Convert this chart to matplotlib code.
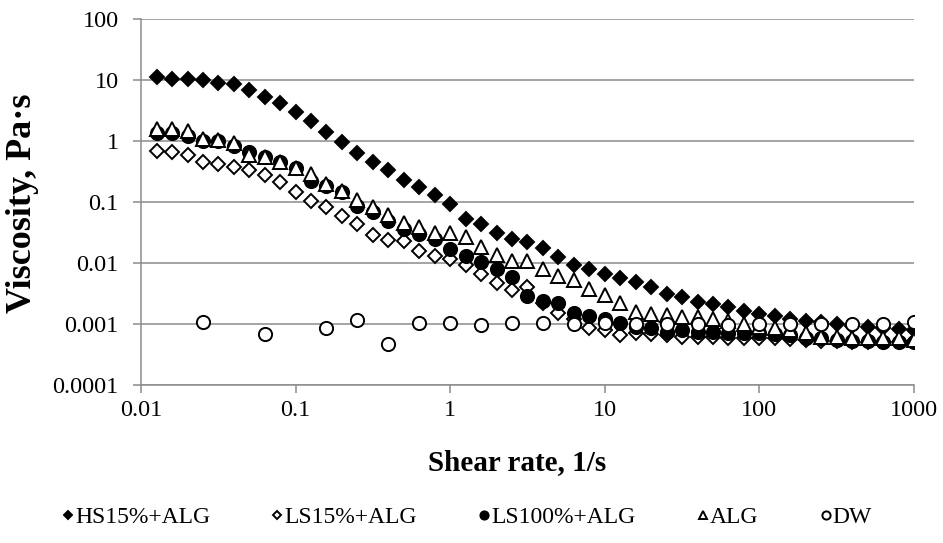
import numpy as np
import matplotlib
matplotlib.use("Agg")
import matplotlib.pyplot as plt
from matplotlib.ticker import FixedLocator, FuncFormatter, NullLocator

# Shear rates (1/s): 10 points per decade from 0.0126 to 1000
shear_rate = [0.0126, 0.0158, 0.02, 0.0251, 0.0316, 0.0398, 0.0501, 0.0631, 0.0794, 0.1,
              0.126, 0.158, 0.2, 0.251, 0.316, 0.398, 0.501, 0.631, 0.794, 1.0,
              1.26, 1.58, 2.0, 2.51, 3.16, 3.98, 5.01, 6.31, 7.94, 10.0,
              12.6, 15.8, 20.0, 25.1, 31.6, 39.8, 50.1, 63.1, 79.4, 100.0,
              126, 158, 200, 251, 316, 398, 501, 631, 794, 1000]

hs15_alg = [11.2, 10.3, 10.3, 9.9, 9.0, 8.5, 6.8, 5.3, 4.2, 3.0,
            2.14, 1.38, 0.95, 0.63, 0.45, 0.34, 0.233, 0.179, 0.128, 0.091,
            0.053, 0.044, 0.031, 0.0244, 0.022, 0.0179, 0.0126, 0.0094, 0.0079, 0.0067,
            0.0057, 0.0048, 0.0041, 0.0031, 0.0028, 0.0023, 0.0021, 0.0019, 0.00165, 0.00146,
            0.00137, 0.00121, 0.00113, 0.00106, 0.001, 0.00093, 0.00088, 0.00085, 0.00083, 0.0008]

ls15_alg = [0.69, 0.65, 0.59, 0.46, 0.42, 0.38, 0.335, 0.28, 0.21, 0.148,
            0.103, 0.082, 0.059, 0.043, 0.029, 0.024, 0.0226, 0.0157, 0.013, 0.0115,
            0.0092, 0.0067, 0.0047, 0.0036, 0.0041, 0.0022, 0.0015, 0.0012, 0.00085, 0.00079,
            0.00066, 0.00072, 0.00068, 0.00066, 0.00062, 0.00062, 0.00062, 0.0006, 0.0006, 0.00058,
            0.00058, 0.00056, 0.00055, 0.00053, 0.00052, 0.0005, 0.0005, 0.0005, 0.0005, 0.00052]

ls100_alg = [1.35, 1.33, 1.22, 1.0, 1.0, 0.84, 0.66, 0.54, 0.45, 0.36,
             0.22, 0.18, 0.148, 0.085, 0.068, 0.0485, 0.036, 0.030, 0.0244, 0.0172,
             0.0129, 0.0104, 0.0081, 0.0058, 0.0029, 0.0024, 0.0022, 0.0015, 0.00137, 0.0012,
             0.00105, 0.0009, 0.00085, 0.00075, 0.0008, 0.00073, 0.00073, 0.00072, 0.0007, 0.0007,
             0.00068, 0.00065, 0.0006, 0.00058, 0.00055, 0.00053, 0.00052, 0.0005, 0.0005, 0.0005]

alg = [1.56, 1.56, 1.47, 1.07, 1.02, 0.91, 0.6, 0.54, 0.46, 0.36,
       0.29, 0.2, 0.15, 0.106, 0.082, 0.062, 0.046, 0.039, 0.031, 0.031,
       0.027, 0.018, 0.0134, 0.0108, 0.0107, 0.0081, 0.0061, 0.0052, 0.0038, 0.003,
       0.0022, 0.0016, 0.00146, 0.0014, 0.00132, 0.0013, 0.0012, 0.0011, 0.00101, 0.0009,
       0.00085, 0.0008, 0.0007, 0.00062, 0.00062, 0.00058, 0.00058, 0.00058, 0.00058, 0.00055]

dw_rate = [0.0251, 0.0631, 0.158, 0.251, 0.398, 0.631, 1.0, 1.58, 2.51, 3.98, 6.31,
           10.0, 15.8, 25.1, 39.8, 63.1, 100, 158, 251, 398, 631, 1000]
dw = [0.00109, 0.000695, 0.00085, 0.00118, 0.00047, 0.00103, 0.00102, 0.00097, 0.00102, 0.00105, 0.00101,
      0.00105, 0.001, 0.00099, 0.00099, 0.00097, 0.00099, 0.00099, 0.00099, 0.00099, 0.00099, 0.00108]

x_ticks = [0.01, 0.1, 1, 10, 100, 1000]
y_ticks = [0.0001, 0.001, 0.01, 0.1, 1, 10, 100]

plt.rcParams['font.family'] = ['Liberation Serif', 'DejaVu Serif']

fig = plt.figure(figsize=(9.43, 5.43), dpi=100)
ax = fig.add_axes([141/943, 1-385/543, (914-141)/943, (385-19)/543])

grid_c = '#8c8c8c'
mew = 1.4
ms = 9.5
ax.plot(shear_rate, hs15_alg, linestyle='none', marker='D', ms=ms*0.72, mfc='black', mec='black', mew=mew, label='HS15%+ALG', zorder=3)
ax.plot(shear_rate, ls15_alg, linestyle='none', marker='D', ms=ms*0.72, mfc='white', mec='black', mew=mew, label='LS15%+ALG', zorder=4)
ax.plot(shear_rate, ls100_alg, linestyle='none', marker='o', ms=ms, mfc='black', mec='black', mew=mew, label='LS100%+ALG', zorder=5)
ax.plot(shear_rate, alg, linestyle='none', marker='^', ms=ms*1.05, mfc='white', mec='black', mew=mew, label='ALG', zorder=6)
ax.plot(dw_rate, dw, linestyle='none', marker='o', ms=ms, mfc='white', mec='black', mew=mew, label='DW', zorder=7)

ax.set_xscale('log')
ax.set_yscale('log')
ax.set_xlim(0.01, 1000)
ax.set_ylim(0.0001, 100)
fmt = FuncFormatter(lambda v, p: '%g' % v)
ax.xaxis.set_major_locator(FixedLocator(x_ticks))
ax.yaxis.set_major_locator(FixedLocator(y_ticks))
ax.xaxis.set_minor_locator(NullLocator())
ax.yaxis.set_minor_locator(NullLocator())
ax.xaxis.set_major_formatter(fmt)
ax.yaxis.set_major_formatter(fmt)
ax.tick_params(axis='both', which='major', direction='out', length=6, width=1.1, color=grid_c, labelsize=17.5, labelcolor='black')
ax.tick_params(axis='x', pad=5)
ax.tick_params(axis='y', pad=10)

ax.grid(True, axis='y', color=grid_c, linewidth=1.1)
ax.set_axisbelow(True)
for s in ['top', 'right']:
    ax.spines[s].set_visible(False)
for s in ['left', 'bottom']:
    ax.spines[s].set_color(grid_c)
    ax.spines[s].set_linewidth(1.1)

fig.text(517/943, 1-463/543, 'Shear rate, 1/s', ha='center', va='center', fontsize=21, fontweight='bold')
fig.text(23/943, 1-203/543, 'Viscosity, Pa·s', ha='center', va='center', rotation=90, fontsize=26, fontweight='bold')

leg = fig.legend(loc='center', bbox_to_anchor=(467/943, 1-517/543), ncol=5, frameon=False, fontsize=17,
                 handlelength=0.5, handletextpad=0.05, columnspacing=2.6, markerscale=0.62, borderpad=0)

fig.savefig('out.png', dpi=100)
